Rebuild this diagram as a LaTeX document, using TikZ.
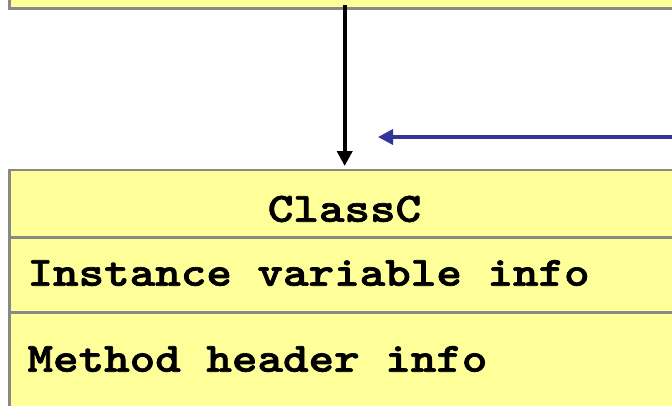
\documentclass[tikz,border=0pt]{standalone}
\usepackage{fontspec}
\usetikzlibrary{arrows.meta}

% heavy slab-serif typewriter face
\newfontfamily\codefont{lmmonolt10-bold}[Extension=.otf, FakeBold=1.6]

\definecolor{boxfill}{HTML}{FFFF99}
\definecolor{boxline}{HTML}{888888}
\definecolor{linkblue}{HTML}{333399}

% widened to a 0.6em advance per character
\newcommand{\codetxt}[1]{\scalebox{1.17}[1]{#1}}

\tikzset{
  compartment/.style={draw=boxline, fill=boxfill, line width=1.9pt,
    inner sep=0pt, outer sep=0pt, anchor=north west, minimum width=517.7pt},
  codetext/.style={inner sep=0pt, outer sep=0pt, text=black,
    font=\codefont\fontsize{31.2}{38}\selectfont},
  blackarrow/.style={draw=black, line width=3pt,
    -{Triangle[length=11.25pt, width=11.25pt]}},
  bluearrow/.style={draw=linkblue, line width=2.5pt,
    -{Triangle[length=11.25pt, width=11.25pt]}}
}

\begin{document}
\begin{tikzpicture}[x=0.75pt, y=-0.75pt]
  \useasboundingbox (0,0) rectangle (672,405);
  \clip (0,0) rectangle (672,405);

  % parent class box, only its lower edge shows
  \node[draw=boxline, fill=boxfill, line width=2.25pt, inner sep=0pt,
        outer sep=0pt, anchor=south west, minimum width=510.4pt,
        minimum height=25pt] (parent) at (9.5,8.5) {};

  % ClassC compartments
  \node[compartment, minimum height=50.6pt]  (title)   at (9.7,170) {};
  \node[compartment, minimum height=56.25pt] (attrs)   at (title.south west) {};
  \node[compartment, minimum height=82.5pt]  (methods) at (attrs.south west) {};

  % compartment texts
  \node[codetext, anchor=base]      (cname)  at (344.5,221.7) {\codetxt{ClassC}};
  \node[codetext, anchor=base west] (ivars)  at (27.5,285.7) {\codetxt{Instance variable info}};
  \node[codetext, anchor=base west] (mheads) at (27.5,371.7) {\codetxt{Method header info}};

  % inheritance link from the parent down to ClassC
  \coordinate (dropx) at (344.7,0);
  \draw[blackarrow, shorten <=-2.5pt, shorten >=3pt]
    (parent.south -| dropx) -- (title.north -| dropx);

  % incoming blue link from the right
  \coordinate (bluetail) at (690,137);
  \coordinate (bluetip) at (378,137);
  \draw[bluearrow] (bluetail) -- (bluetip);
\end{tikzpicture}
\end{document}
